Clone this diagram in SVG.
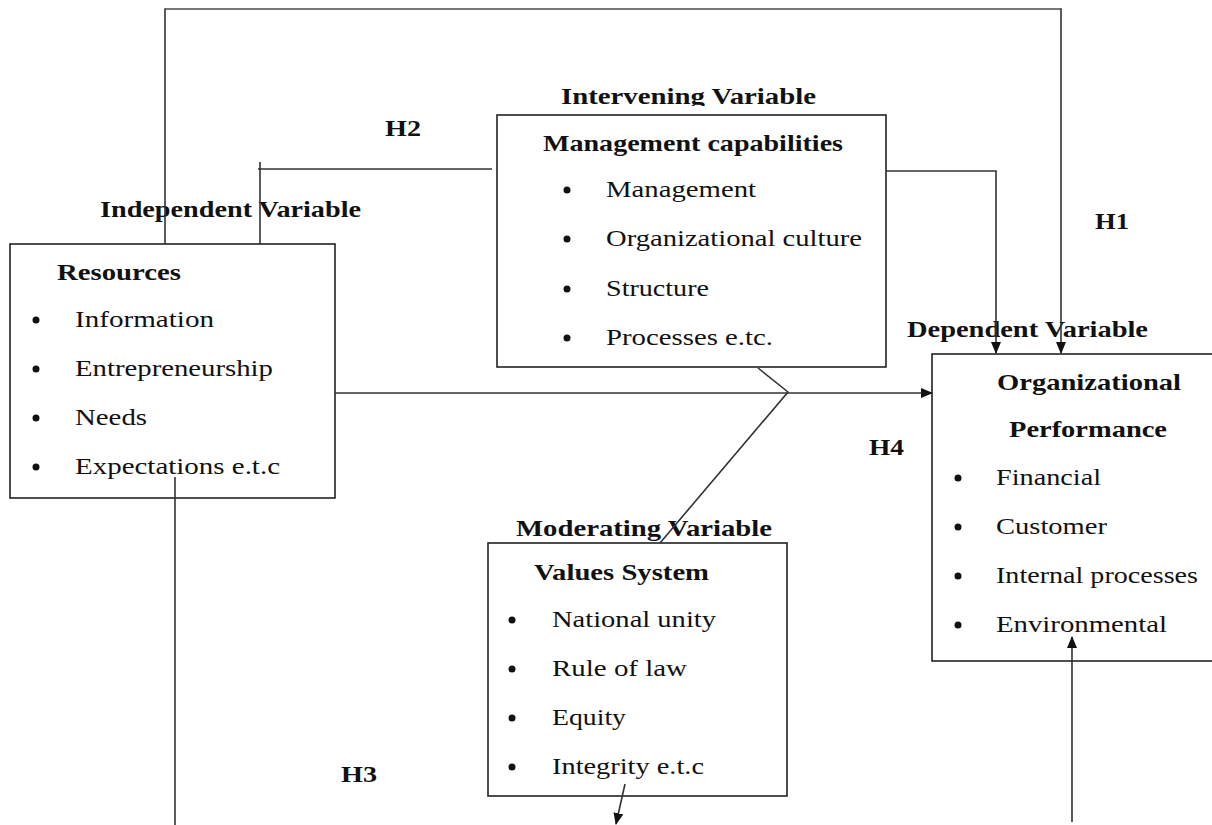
<svg xmlns="http://www.w3.org/2000/svg" width="1212" height="825" viewBox="0 0 1212 825">
<style>
text{font-family:"Liberation Serif","Times New Roman",serif;font-size:24px;fill:#111}
.b{font-weight:bold}
.box{fill:#fff;stroke:#222;stroke-width:1.6}
.ln{fill:none;stroke:#333;stroke-width:1.6}
.g{fill:none;stroke:#777;stroke-width:2}
.dot{fill:#111}
</style>
<defs>
<marker id="ah" markerWidth="12" markerHeight="10" refX="11" refY="5" orient="auto" markerUnits="userSpaceOnUse">
<path d="M0,0 L12,5 L0,10 Z" fill="#111"/>
</marker>
<clipPath id="clipInt"><rect x="0" y="0" width="1212" height="106"/></clipPath>
</defs>
<rect width="1212" height="825" fill="#fff"/>

<g id="labels">
<text class="b" x="385" y="136" textLength="36" lengthAdjust="spacingAndGlyphs">H2</text>
<text class="b" x="1095" y="229" textLength="34" lengthAdjust="spacingAndGlyphs">H1</text>
<text class="b" x="869" y="455" textLength="35" lengthAdjust="spacingAndGlyphs">H4</text>
<text class="b" x="341" y="782" textLength="36" lengthAdjust="spacingAndGlyphs">H3</text>
<text class="b" x="561" y="104" clip-path="url(#clipInt)" textLength="255" lengthAdjust="spacingAndGlyphs">Intervening Variable</text>
<text class="b" x="100" y="217" textLength="261" lengthAdjust="spacingAndGlyphs">Independent Variable</text>
<text class="b" x="907" y="337" textLength="241" lengthAdjust="spacingAndGlyphs">Dependent Variable</text>
<text class="b" x="516" y="536" textLength="256" lengthAdjust="spacingAndGlyphs">Moderating Variable</text>
</g>

<g id="resources">
<rect class="box" x="10" y="244" width="325" height="254"/>
<text class="b" x="57" y="280" textLength="124" lengthAdjust="spacingAndGlyphs">Resources</text>
<circle class="dot" cx="36" cy="320" r="3.5"/>
<circle class="dot" cx="36" cy="369" r="3.5"/>
<circle class="dot" cx="36" cy="418" r="3.5"/>
<circle class="dot" cx="36" cy="467" r="3.5"/>
<text x="75" y="327" textLength="139" lengthAdjust="spacingAndGlyphs">Information</text>
<text x="75" y="376" textLength="198" lengthAdjust="spacingAndGlyphs">Entrepreneurship</text>
<text x="75" y="425" textLength="72" lengthAdjust="spacingAndGlyphs">Needs</text>
<text x="75" y="474" textLength="205" lengthAdjust="spacingAndGlyphs">Expectations e.t.c</text>
</g>

<g id="management">
<rect class="box" x="497" y="115" width="389" height="252"/>
<text class="b" x="543" y="151" textLength="300" lengthAdjust="spacingAndGlyphs">Management capabilities</text>
<circle class="dot" cx="567" cy="190" r="3.5"/>
<circle class="dot" cx="567" cy="239" r="3.5"/>
<circle class="dot" cx="567" cy="289" r="3.5"/>
<circle class="dot" cx="567" cy="338" r="3.5"/>
<text x="606" y="197" textLength="150" lengthAdjust="spacingAndGlyphs">Management</text>
<text x="606" y="246" textLength="256" lengthAdjust="spacingAndGlyphs">Organizational culture</text>
<text x="606" y="296" textLength="103" lengthAdjust="spacingAndGlyphs">Structure</text>
<text x="606" y="345" textLength="167" lengthAdjust="spacingAndGlyphs">Processes e.tc.</text>
</g>

<g id="performance">
<rect class="box" x="932" y="354" width="290" height="307"/>
<text class="b" x="997" y="390" textLength="184" lengthAdjust="spacingAndGlyphs">Organizational</text>
<text class="b" x="1009" y="437" textLength="158" lengthAdjust="spacingAndGlyphs">Performance</text>
<circle class="dot" cx="958" cy="478" r="3.5"/>
<circle class="dot" cx="958" cy="527" r="3.5"/>
<circle class="dot" cx="958" cy="576" r="3.5"/>
<circle class="dot" cx="958" cy="625" r="3.5"/>
<text x="996" y="485" textLength="105" lengthAdjust="spacingAndGlyphs">Financial</text>
<text x="996" y="534" textLength="111" lengthAdjust="spacingAndGlyphs">Customer</text>
<text x="996" y="583" textLength="202" lengthAdjust="spacingAndGlyphs">Internal processes</text>
<text x="996" y="632" textLength="171" lengthAdjust="spacingAndGlyphs">Environmental</text>
</g>

<g id="values">
<rect class="box" x="488" y="543" width="299" height="253"/>
<text class="b" x="534" y="580" textLength="175" lengthAdjust="spacingAndGlyphs">Values System</text>
<circle class="dot" cx="512" cy="620" r="3.5"/>
<circle class="dot" cx="512" cy="669" r="3.5"/>
<circle class="dot" cx="512" cy="718" r="3.5"/>
<circle class="dot" cx="512" cy="767" r="3.5"/>
<text x="552" y="627" textLength="164" lengthAdjust="spacingAndGlyphs">National unity</text>
<text x="552" y="676" textLength="135" lengthAdjust="spacingAndGlyphs">Rule of law</text>
<text x="552" y="725" textLength="74" lengthAdjust="spacingAndGlyphs">Equity</text>
<text x="552" y="774" textLength="152" lengthAdjust="spacingAndGlyphs">Integrity e.t.c</text>
</g>

<g id="connectors">
<polyline class="ln" points="165,244 165,9 1061,9 1061,353" marker-end="url(#ah)"/>
<line class="g" x1="166" y1="9" x2="1060" y2="9"/>
<line class="ln" x1="260" y1="244" x2="260" y2="162"/>
<line class="ln" x1="258" y1="169" x2="492" y2="169"/>
<polyline class="ln" points="886,171 996,171 996,353" marker-end="url(#ah)"/>
<line class="ln" x1="335" y1="393" x2="932" y2="393" marker-end="url(#ah)"/>
<polyline class="ln" points="758,368 788,392 660,543"/>
<line class="ln" x1="175" y1="477" x2="175" y2="825"/>
<line class="ln" x1="625" y1="784" x2="616" y2="824" marker-end="url(#ah)"/>
<line class="ln" x1="1072" y1="822" x2="1072" y2="637" marker-end="url(#ah)"/>
</g>
</svg>
